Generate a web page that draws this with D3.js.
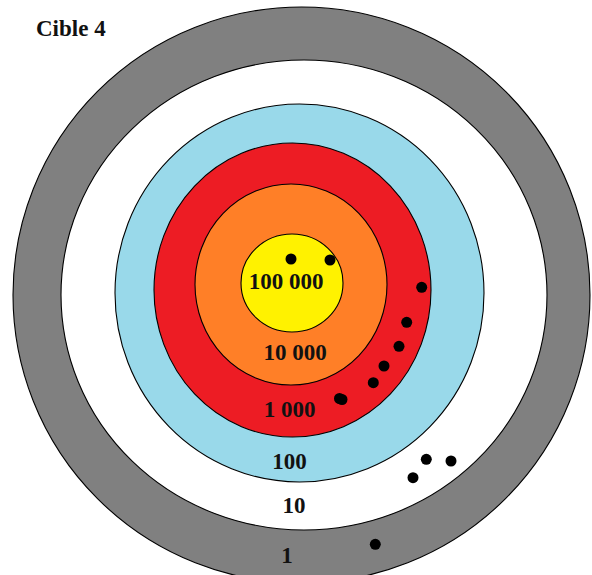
<!DOCTYPE html>
<html>
<head>
<meta charset="utf-8">
<script src="https://cdn.jsdelivr.net/npm/d3@7"></script>
<style>
  body { margin: 0; background: #fff; }
  svg { display: block; }
</style>
</head>
<body>
<div id="target"></div>
<script>
// ring values, from the outside in
const ringLabels = ["1", "10", "100", "1 000", "10 000", "100 000"];
// ring outlines in target units (centre offset, radii), y up
const ringCx = [0.5, 3, -1.5, -8.5, -10, -9];
const ringCy = [-2, -2, 0, 3, 8.5, 10];
const ringRx = [288.5, 243, 184.5, 138.5, 96, 51];
const ringRy = [288, 235, 189, 147, 100.5, 49];
// where each ring's value is written
const labelX = [-14, -7, -11.5, -11.5, -6, -15];
const labelY = [-262, -212, -168, -116, -59, 12];
// the hits
const shotsX = [-10, 29, 120.7, 105.7, 98, 83, 72.3, 38.5, 41, 125.3, 150, 112, 74.3];
const shotsY = [34, 33, 5.7, -29.3, -53.3, -73, -89.7, -105.5, -106.5, -166.3, -168, -184.7, -251.3];

var width = 592,
    height = 575;

var svg = d3.select("#target")
    .append("svg")
    .attr("width", width)
    .attr("height", height);

// target units -> pixels
var x = d3.scaleLinear()
    .domain([-301, 291])
    .range([0, width]);
var y = d3.scaleLinear()
    .domain([293, -282])
    .range([0, height]);

var color = d3.scaleOrdinal()
    .domain(ringLabels)
    .range(["#808080", "#ffffff", "#99d9ea", "#ed1c24", "#ff7f27", "#fff200"]);

// rings, biggest first so the smaller ones sit on top
svg.append("g")
    .selectAll("ellipse")
    .data(ringLabels)
    .enter()
    .append("ellipse")
    .attr("cx", function (d, i) { return x(ringCx[i]); })
    .attr("cy", function (d, i) { return y(ringCy[i]); })
    .attr("rx", function (d, i) { return x(ringRx[i]) - x(0); })
    .attr("ry", function (d, i) { return y(0) - y(ringRy[i]); })
    .style("fill", function (d) { return color(d); })
    .style("stroke", "#000")
    .style("stroke-width", 1.1);

// ring values
svg.append("g")
    .selectAll("text")
    .data(ringLabels)
    .enter()
    .append("text")
    .attr("x", function (d, i) { return x(labelX[i]); })
    .attr("y", function (d, i) { return y(labelY[i]); })
    .attr("dy", "0.35em")
    .attr("text-anchor", "middle")
    .style("font-family", "'Liberation Serif', 'Times New Roman', serif")
    .style("font-weight", "bold")
    .style("font-size", "23px")
    .style("fill", "#111")
    .text(function (d) { return d; });

// hits
svg.append("g")
    .selectAll("circle")
    .data(shotsX)
    .enter()
    .append("circle")
    .attr("cx", function (d) { return x(d); })
    .attr("cy", function (d, i) { return y(shotsY[i]); })
    .attr("r", 5.5)
    .style("fill", "#000");

// title
svg.append("text")
    .attr("x", 36)
    .attr("y", 36)
    .style("font-family", "'Liberation Serif', 'Times New Roman', serif")
    .style("font-weight", "bold")
    .style("font-size", "23px")
    .style("fill", "#111")
    .text("Cible 4");
</script>
</body>
</html>
